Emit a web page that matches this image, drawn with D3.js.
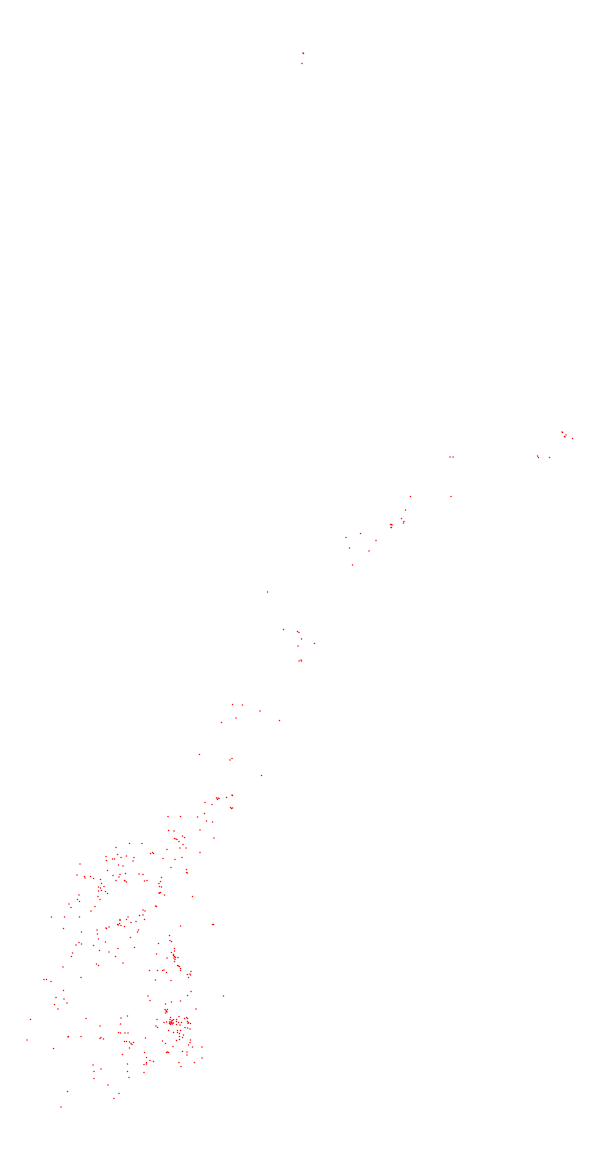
<!DOCTYPE html>
<html>
<head>
<meta charset="utf-8">
<style>
  html, body { margin: 0; padding: 0; background: #fff; }
  svg { display: block; }
</style>
<script src="https://cdn.jsdelivr.net/npm/d3@7"></script>
</head>
<body>
<div id="chart"></div>
<script>
// site locations as [km east, km south] from the map corner
const svalbard = [[606,106],[607,107],[604,127]];
const finnmark = [[1124,864],[1125,865],[1132,870],[1129,873],[1130,874],[1145,877],[1075,912],[1077,915],[1099,915],[900,914],[906,914]];
const troms = [[821,993],[902,993],[811,1020],[803,1037],[808,1043],[807,1046],[781,1049],[784,1050],[783,1049],[782,1055],[783,1055],[721,1067],[692,1075],[752,1081],[699,1096],[738,1102],[705,1130]];
const nordland = [[535,1184],[567,1259],[595,1263],[598,1265],[603,1278],[629,1287],[596,1292],[598,1322],[602,1320],[603,1322]];
const trondelag = [[465,1409],[485,1410],[520,1422],[472,1436],[559,1441],[443,1445],[399,1509],[460,1520],[464,1517],[523,1551],[464,1590],[465,1591],[433,1596],[436,1596],[438,1597],[435,1599],[453,1595],[410,1605],[424,1609],[461,1615],[465,1616],[463,1617]];
const moreWest = [[232,1695],[259,1687],[212,1713],[213,1721],[235,1709],[253,1712],[242,1715],[225,1718],[229,1718],[237,1730],[246,1732],[160,1728],[215,1741],[154,1750],[169,1753],[170,1756],[181,1753],[187,1757],[201,1759],[226,1751],[240,1749],[251,1747],[238,1754],[232,1761],[249,1761],[250,1762],[253,1764],[203,1767],[208,1773],[197,1774],[201,1776],[197,1782],[203,1781],[211,1783],[215,1787],[196,1793],[200,1799],[158,1790],[155,1799],[159,1803],[138,1808],[142,1815],[190,1813],[182,1822],[103,1834],[129,1834],[159,1834],[240,1839],[256,1834],[253,1839]];
const moreEast = [[336,1633],[361,1633],[395,1634],[409,1627],[413,1642],[425,1644],[337,1661],[348,1662],[365,1672],[369,1675],[349,1677],[352,1678],[354,1679],[358,1683],[400,1660],[428,1676],[284,1687],[366,1689],[360,1696],[372,1696],[334,1699],[305,1705],[301,1707],[307,1707],[400,1705],[268,1715],[266,1722],[326,1717],[350,1719],[364,1715],[342,1735],[373,1739],[373,1745],[375,1746],[278,1748],[286,1749],[323,1755],[289,1762],[294,1761],[321,1763],[318,1767],[319,1773],[323,1774],[319,1786],[318,1786],[321,1785],[329,1790],[385,1793],[311,1812],[313,1813],[286,1820],[290,1822],[279,1831],[286,1830],[289,1839]];
const vestland = [[127,1857],[163,1864],[194,1860],[195,1868],[212,1856],[213,1857],[218,1854],[235,1849],[237,1850],[239,1847],[240,1841],[242,1851],[249,1853],[197,1878],[211,1884],[158,1885],[152,1890],[163,1888],[187,1891],[236,1897],[199,1901],[218,1904],[145,1906],[143,1913],[231,1913],[246,1926],[193,1928],[197,1931],[126,1934],[162,1955],[88,1959],[93,1959],[102,1963],[127,1981],[112,1995],[128,1998],[134,2006],[109,2009],[116,2018],[61,2039],[172,2037],[242,2036],[255,2032]];
const innlandet = [[262,1845],[272,1843],[361,1852],[427,1849],[425,1849],[277,1860],[275,1864],[261,1875],[339,1871],[340,1881],[343,1883],[317,1887],[269,1895],[349,1897],[349,1902],[343,1905],[313,1908],[347,1911],[351,1915],[356,1915],[334,1916],[350,1919],[349,1923],[347,1909],[349,1913],[348,1916],[355,1931],[357,1932],[359,1933],[361,1937],[361,1941],[299,1941],[315,1941],[325,1941],[328,1940],[333,1945],[382,1943],[375,1949],[381,1950],[380,1948],[377,1955],[311,1960],[342,1961],[382,1983],[296,1992],[375,1991],[447,1992],[300,2001],[343,2004],[361,2002],[331,2008],[392,2018],[330,2019],[335,2019],[333,2023],[331,2026],[332,2021],[334,2024],[358,2033],[341,2035],[373,2035],[375,2037],[369,2037],[340,2039],[347,2039],[353,2039],[314,2039]];
const rogaland = [[200,2052],[241,2048],[237,2065],[241,2066],[250,2066],[256,2066],[136,2074],[137,2073],[162,2073],[200,2077],[202,2075],[207,2078],[54,2080],[249,2083],[253,2083],[259,2084],[259,2096],[107,2097],[245,2109],[186,2130],[255,2128],[202,2138],[188,2143],[255,2143],[258,2155],[188,2157],[216,2170],[135,2183],[238,2187],[228,2197],[122,2214]];
const oslofjord = [[328,2045],[333,2044],[339,2044],[343,2045],[345,2041],[341,2049],[345,2048],[353,2043],[357,2045],[363,2045],[377,2045],[381,2047],[353,2049],[360,2050],[312,2052],[315,2055],[370,2055],[375,2056],[380,2058],[337,2061],[341,2044],[344,2046],[342,2047],[339,2047],[347,2046],[343,2042],[375,2043],[376,2047],[355,2061],[361,2061],[347,2065],[355,2065],[359,2067],[367,2070],[359,2073],[365,2075],[359,2079],[353,2081],[381,2080],[380,2085],[377,2090],[325,2082],[331,2087],[346,2093],[385,2094],[404,2094],[291,2076],[262,2087],[267,2085],[264,2089],[289,2105],[333,2105],[335,2104],[337,2105],[365,2103],[374,2104],[374,2110],[293,2115],[300,2121],[307,2123],[293,2125],[288,2129],[293,2128],[358,2125],[362,2133],[389,2125],[404,2116],[288,2145]];

const sites = [].concat(svalbard, finnmark, troms, nordland, trondelag, moreWest, moreEast, vestland, innlandet, rogaland, oslofjord);

const width = 600;
const height = 1160;

const x = d3.scaleLinear().domain([0, 1200]).range([0, width]);
const y = d3.scaleLinear().domain([0, 2320]).range([0, height]);

const svg = d3.select('#chart')
    .append('svg')
    .attr('width', width)
    .attr('height', height)
    .attr('viewBox', `0 0 ${width} ${height}`)
    .style('background', '#fff');

svg.append('g')
    .selectAll('circle')
    .data(sites)
    .enter()
    .append('circle')
    .attr('cx', d => x(d[0]))
    .attr('cy', d => y(d[1]))
    .attr('r', 0.75)
    .attr('fill', '#ff0000');
</script>
</body>
</html>
